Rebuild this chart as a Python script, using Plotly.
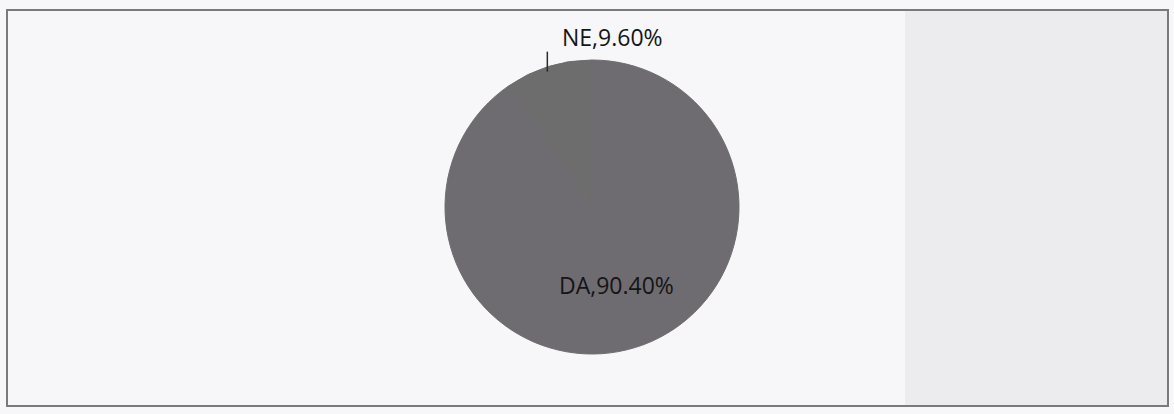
import math
import plotly.graph_objects as go

# Data
labels = ["DA", "NE"]
values = [90.4, 9.6]
text_labels = ["DA,90.40%", "NE,9.60%"]
colors = ["#6e6c71", "#6c6d6c"]

W, H = 1174, 414
cx, cy, R = 592, 207, 147  # pixel geometry of pie


def px(x):
    return x / W


def py(y):
    return 1 - y / H


fig = go.Figure()
fig.add_trace(go.Pie(
    labels=labels,
    values=values,
    sort=False,
    direction="clockwise",
    rotation=0,
    marker=dict(colors=colors, line=dict(width=1, color="#6d6c70")),
    textinfo="none",
    hoverinfo="label+percent",
    showlegend=False,
    domain=dict(x=[px(cx - R), px(cx + R)], y=[py(cy + R), py(cy - R)]),
))

# label positions derived from slice mid-angles
total = sum(values)
cum = 0
mids = []
for v in values:
    mids.append(2 * math.pi * (cum + v / 2) / total)
    cum += v

annotations = []
shapes = []

# background panel (scan) and border
shapes.append(dict(type="rect", xref="paper", yref="paper", layer="below",
                   x0=px(905), x1=px(1168), y0=py(406), y1=py(10),
                   fillcolor="#ececef", line=dict(width=0)))
shapes.append(dict(type="rect", xref="paper", yref="paper", layer="above",
                   x0=px(7), x1=px(1168), y0=py(406), y1=py(10),
                   fillcolor="rgba(0,0,0,0)", line=dict(color="#7a7a7c", width=2)))

# DA label inside
a = mids[0]
r_in = 0.55 * R
annotations.append(dict(x=px(cx + r_in * math.sin(a)), y=py(cy - r_in * math.cos(a) + 1),
                        xref="paper", yref="paper", text=text_labels[0], showarrow=False,
                        font=dict(family="Open Sans", size=23, color="#151515"),
                        xanchor="center", yanchor="middle"))

# NE label outside with leader line
a = mids[1]
ex = cx + R * math.sin(a)
ey = cy - R * math.cos(a)
shapes.append(dict(type="line", xref="paper", yref="paper",
                   x0=px(ex - 1), x1=px(ex - 1), y0=py(ey + 5), y1=py(ey - 15),
                   line=dict(color="#2a2a2a", width=1.5)))
annotations.append(dict(x=px(ex + 64), y=py(ey - 30), xref="paper", yref="paper",
                        text=text_labels[1], showarrow=False,
                        font=dict(family="Open Sans", size=23, color="#151515"),
                        xanchor="center", yanchor="middle"))

fig.update_layout(
    width=W, height=H,
    margin=dict(l=0, r=0, t=0, b=0),
    paper_bgcolor="#f7f6f9",
    plot_bgcolor="#f7f6f9",
    shapes=shapes,
    annotations=annotations,
)

fig.write_html("out.html",
               config={"displayModeBar": False},
               post_script="document.body.style.margin='0';document.body.style.overflow='hidden';")
